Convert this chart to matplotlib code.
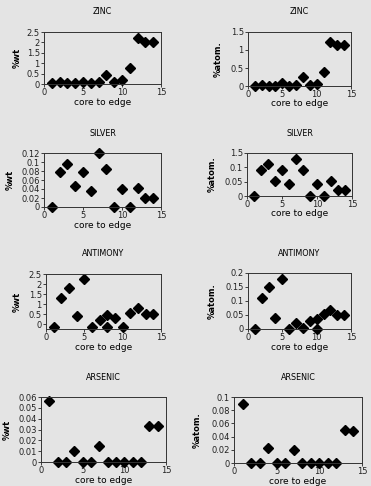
import matplotlib
matplotlib.use('Agg')
import matplotlib.pyplot as plt

# position along the sample, core (1) to edge (14)
pos = list(range(1, 15))

zinc_wt = [0.05, 0.1, 0.05, 0.07, 0.12, 0.05, 0.12, 0.45, 0.1, 0.2, 0.75, 2.2, 2.0, 2.0]
zinc_at = [0.0, 0.02, 0.0, 0.0, 0.07, 0.0, 0.03, 0.25, 0.02, 0.05, 0.4, 1.22, 1.13, 1.13]

silver_wt = [0.0, 0.078, 0.096, 0.047, 0.078, 0.035, 0.12, 0.084, 0.0, 0.04, 0.0, 0.042, 0.019, 0.019]
silver_at = [0.0, 0.09, 0.11, 0.052, 0.09, 0.042, 0.13, 0.09, 0.0, 0.042, 0.0, 0.052, 0.02, 0.02]

# antimony has a repeated reading at one position
sb_wt_x = [1, 2, 3, 4, 5, 6, 7, 8, 8, 9, 10, 11, 12, 13, 14]
sb_wt = [-0.15, 1.3, 1.8, 0.4, 2.25, -0.15, 0.2, 0.45, -0.15, 0.3, -0.15, 0.55, 0.8, 0.5, 0.5]
sb_at_x = [1, 2, 3, 4, 5, 6, 7, 8, 9, 10, 10, 11, 12, 13, 14]
sb_at = [0.0, 0.11, 0.15, 0.04, 0.178, 0.0, 0.02, 0.003, 0.03, 0.037, 0.0, 0.052, 0.068, 0.05, 0.05]

arsenic_wt = [0.056, 0, 0, 0.01, 0, 0, 0.015, 0, 0, 0, 0, 0, 0.033, 0.033]
arsenic_at = [0.09, 0, 0, 0.023, 0, 0, 0.02, 0, 0, 0, 0, 0, 0.05, 0.049]

bg = '#e4e4e4'
fs = 6.0

fig = plt.figure(figsize=(3.71, 4.86), dpi=100, facecolor=bg)

# (title, ylabel, x, y, ylim, yticks, yticklabels, axes box in pixels l, t, r, b, ylabel x)
panels = [
    ('ZINC', '%wt', pos, zinc_wt, (0, 2.5), [0, 0.5, 1, 1.5, 2, 2.5], ['0', '0.5', '1', '1.5', '2', '2.5'],
     (44, 32, 161, 84), 17),
    ('ZINC', '%atom.', pos, zinc_at, (0, 1.5), [0, 0.5, 1, 1.5], ['0', '0.5', '1', '1.5'],
     (248, 32, 351, 86), 218),
    ('SILVER', '%wt', pos, silver_wt, (0, 0.12), [0, 0.02, 0.04, 0.06, 0.08, 0.1, 0.12],
     ['0', '0.02', '0.04', '0.06', '0.08', '0.1', '0.12'], (44, 153, 161, 207), 10),
    ('SILVER', '%atom.', pos, silver_at, (0, 0.15), [0, 0.05, 0.1, 0.15], ['0', '0.05', '0.1', '1.5'],
     (247, 153, 352, 196), 212),
    ('ANTIMONY', '%wt', sb_wt_x, sb_wt, (-0.25, 2.5), [0, 0.5, 1, 1.5, 2, 2.5], ['0', '0.5', '1', '1.5', '2', '2.5'],
     (46, 274, 161, 329), 17),
    ('ANTIMONY', '%atom.', sb_at_x, sb_at, (0, 0.2), [0, 0.05, 0.1, 0.15, 0.2], ['0', '0.05', '0.1', '0.15', '0.2'],
     (248, 273, 351, 329), 212),
    ('ARSENIC', '%wt', pos, arsenic_wt, (0, 0.06), [0, 0.01, 0.02, 0.03, 0.04, 0.05, 0.06],
     ['0', '0.01', '0.02', '0.03', '0.04', '0.05', '0.06'], (41, 397, 166, 462), 7),
    ('ARSENIC', '%atom.', pos, arsenic_at, (0, 0.1), [0, 0.02, 0.04, 0.06, 0.08, 0.1],
     ['0', '0.02', '0.04', '0.06', '0.08', '0.1'], (234, 397, 362, 463), 197),
]

W, H = 371.0, 486.0
for title, ylab, xs, ys, ylim, yt, ytl, (l, t, r, b), ylx in panels:
    ax = fig.add_axes([l / W, 1 - b / H, (r - l) / W, (b - t) / H])
    ax.set_facecolor(bg)
    ax.plot(xs, ys, linestyle='none', marker='D', markersize=4.6, color='black', clip_on=False)
    ax.set_xlim(0, 15)
    ax.set_ylim(*ylim)
    ax.set_xticks([0, 5, 10, 15])
    ax.set_yticks(yt)
    ax.set_yticklabels(ytl)
    ax.tick_params(labelsize=fs, length=2, width=0.6, pad=1.0, colors='#222222')
    for s in ax.spines.values():
        s.set_linewidth(0.7)
        s.set_color('#333333')
    fig.text((l + r) / 2 / W, 1 - (b + 18) / H, 'core to edge', fontsize=fs + 0.5,
             ha='center', va='center')
    fig.text(ylx / W, 1 - (t + b) / 2 / H, ylab, rotation=90, fontsize=fs, fontweight='bold',
             ha='center', va='center')
    fig.text((l + r) / 2 / W, 1 - (t - 20) / H, title, fontsize=fs - 0.2,
             ha='center', va='center')

fig.savefig('out.png', dpi=100, facecolor=bg)
